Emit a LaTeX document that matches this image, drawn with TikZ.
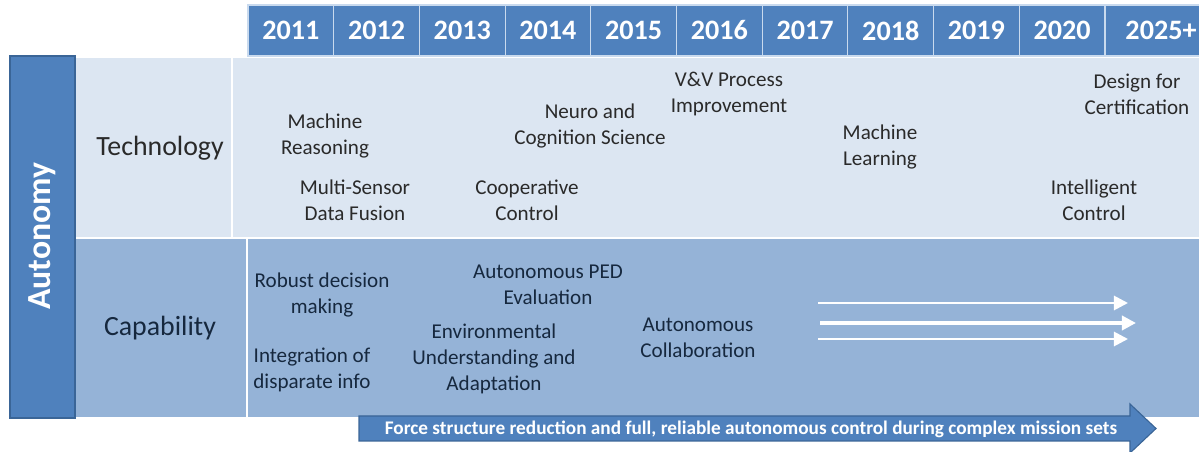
\documentclass[tikz,border=0pt]{standalone}
\usepackage{fontspec}
\setmainfont{Carlito}
\usepackage{xcolor}
\usetikzlibrary{arrows.meta,positioning}
\definecolor{hdrblue}{HTML}{4F81BD}
\definecolor{hdredge}{HTML}{3A6597}
\definecolor{techrow}{HTML}{DCE6F2}
\definecolor{caprow}{HTML}{95B3D7}
\definecolor{techtxt}{HTML}{2A2A2A}
\definecolor{captxt}{HTML}{16283E}
\definecolor{cellline}{HTML}{C9DAEE}

\begin{document}
\begin{tikzpicture}[x=0.025cm,y=-0.025cm,
  item/.style={align=center,inner sep=0pt,font=\fontsize{15}{18.5}\selectfont},
  titem/.style={item,text=techtxt},
  citem/.style={item,text=captxt},
  rowlabel/.style={inner sep=0pt,font=\fontsize{19.8}{22}\selectfont},
  year/.style={inner sep=0pt,text=white,font=\bfseries\fontsize{20}{22}\selectfont},
  cell/.style={fill=hdrblue,draw=cellline,line width=0.8pt},
  flow/.style={draw=white,line width=2pt,-{Triangle[length=10pt,width=10pt]}}]
\useasboundingbox (0,0) rectangle (1199,452);
\clip (0,0) rectangle (1199,452);

\fill[techrow] (75,58) rectangle (1230,237);
\fill[caprow]  (75,239) rectangle (1230,417);
\draw[white,line width=1.2pt] (232,58) -- (232,237);
\draw[white,line width=1.2pt] (247,239) -- (247,417);

\foreach \yr [count=\i from 0] in {2011,2012,2013,2014,2015,2016,2017,2018,2019,2020} {
  \draw[cell] ({248+85.7*\i},5) rectangle ++(85.7,51);
  \node[year] (y\yr) at ({290.85+85.7*\i},30.5) {\yr};
}
\draw[cell] (1105,5) rectangle (1240,56);
\node[year] (ylast) at (1161,30.5) {2025+};

\fill[hdrblue,draw=hdredge,line width=0.8pt] (10,56) rectangle (75,418);
\node[rotate=90,inner sep=0pt,text=white,font=\bfseries\fontsize{24}{26}\selectfont] (auto) at (42,236) {Autonomy};

\node[rowlabel,text=techtxt] (tech) at (160,148) {Technology};
\node[rowlabel,text=captxt]  (cap)  at (160,328) {Capability};

\node[titem] (mreason) at (325,136) {Machine\\Reasoning};
\node[titem] (fusion)  at (355,200) {Multi-Sensor\\Data Fusion};
\node[titem] (neuro)   at (590,126) {Neuro and\\Cognition Science};
\node[titem] (coop)    at (527,200) {Cooperative\\Control};
\node[titem] (vv)      at (729,94)  {V\&V Process\\Improvement};
\node[titem] (mlearn)  at (880,147) {Machine\\Learning};
\node[titem] (cert)    at (1137,94) {Design for\\Certification};
\node[titem] (intel)   at (1094,200) {Intelligent\\Control};

\node[citem] (robust)  at (322,295) {Robust decision\\making};
\node[citem] (integ)   at (312,370) {Integration of\\disparate info};
\node[citem] (ped)     at (548,285) {Autonomous PED\\Evaluation};
\node[citem] (env)     at (494,359) {Environmental\\Understanding and\\Adaptation};
\node[citem] (collab)  at (698,338) {Autonomous\\Collaboration};

\coordinate (f1s) at (818,303);  \coordinate (f1e) at (1128,303);
\coordinate (f2s) at (820,323);  \coordinate (f2e) at (1136,323);
\coordinate (f3s) at (818,339);  \coordinate (f3e) at (1128,339);
\draw[flow] (f1s) -- (f1e);
\draw[flow,line width=2.6pt] (f2s) -- (f2e);
\draw[flow] (f3s) -- (f3e);

\filldraw[fill=hdrblue,draw=hdredge,line width=0.8pt]
  (359,416) -- (1130,416) -- (1130,404) -- (1156,428.5) -- (1130,453) -- (1130,441) -- (359,441) -- cycle;
\node[inner sep=0pt,text=white,font=\bfseries\fontsize{13.7}{15}\selectfont] (force) at (751,429)
  {Force structure reduction and full, reliable autonomous control during complex mission sets};
\end{tikzpicture}
\end{document}
